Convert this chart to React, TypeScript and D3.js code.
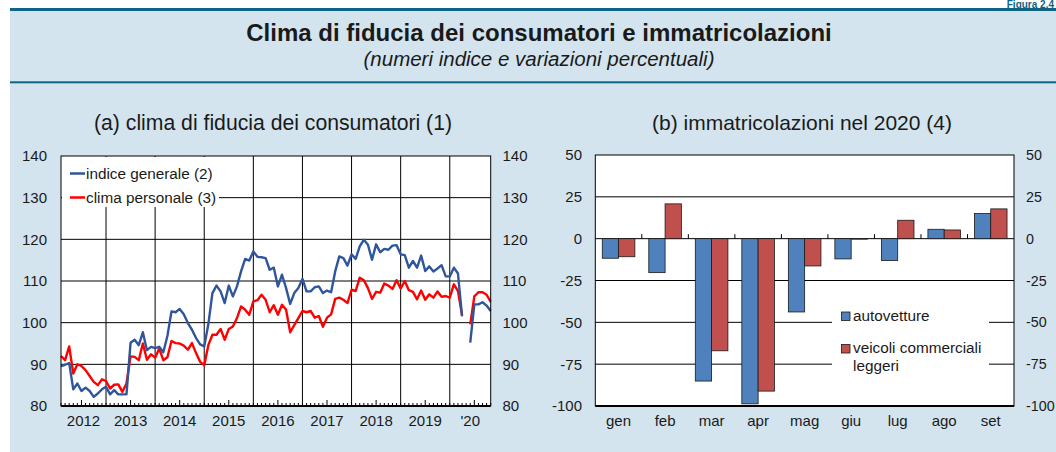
import React from "react";
import * as d3 from "d3";

// ---------- DATA ----------
const years = ["2012", "2013", "2014", "2015", "2016", "2017", "2018", "2019", "'20"];

// Monthly values, Jan 2012 .. Oct 2020 (April 2020 missing)
const indiceGenerale: (number | null)[] = [
  89.6, 89.9, 90.3, 84.0, 85.4, 83.6, 84.4, 83.6, 82.2, 83.0, 84.0, 84.6,
  82.8, 83.8, 82.8, 82.8, 82.8, 95.2, 95.9, 94.6, 97.7, 93.4, 94.2, 93.9,
  94.2, 92.9, 96.8, 102.7, 102.5, 103.3, 102.0, 99.9, 98.3, 96.3, 94.8, 94.3,
  99.6, 107.1, 108.9, 107.5, 104.7, 108.9, 106.3, 108.7, 112.3, 115.3, 114.9, 117.1,
  115.8, 115.7, 115.5, 112.7, 113.2, 108.7, 111.5, 108.3, 104.5, 107.1, 108.3, 110.5,
  107.5, 107.5, 108.5, 108.7, 107.1, 107.7, 107.3, 112.3, 115.9, 115.5, 113.7, 116.4,
  115.3, 118.3, 119.9, 118.7, 115.1, 118.8, 116.9, 117.7, 117.5, 118.5, 118.6, 116.4,
  116.2, 113.2, 114.8, 113.2, 116.1, 112.4, 113.5, 112.3, 113.0, 113.8, 111.1, 111.1,
  113.2, 111.8, 101.5, null, 95.2, 104.4, 104.4, 104.9, 104.1, 102.8,
];

const climaPersonale: (number | null)[] = [
  92.0, 91.0, 94.3, 87.8, 90.0, 89.6, 88.6, 87.2, 85.8, 85.0, 86.4, 86.0,
  84.2, 85.1, 85.2, 83.4, 85.4, 91.9, 91.8, 91.0, 95.0, 91.1, 92.4, 91.6,
  93.8, 91.0, 91.7, 95.6, 95.1, 95.0, 94.5, 93.5, 95.1, 92.7, 90.6, 89.8,
  94.6, 97.1, 97.1, 98.5, 95.9, 98.5, 99.1, 101.1, 103.9, 103.1, 101.9, 105.1,
  105.4, 106.7, 105.5, 102.5, 104.2, 101.9, 104.3, 103.1, 97.7, 99.4, 101.1, 102.8,
  102.5, 102.8, 101.2, 101.6, 99.0, 101.2, 102.0, 105.7, 106.0, 105.5, 104.7, 107.9,
  107.6, 110.8, 110.2, 108.3, 105.7, 107.4, 107.2, 109.4, 108.9, 108.1, 110.2, 108.2,
  110.0, 107.8, 107.4, 105.6, 107.7, 105.5, 106.8, 106.0, 107.5, 106.2, 106.4, 106.0,
  109.2, 107.6, 101.8, null, 99.6, 106.3, 107.3, 107.3, 106.7, 105.0,
];

const leftTicks = [80, 90, 100, 110, 120, 130, 140];

const months = ["gen", "feb", "mar", "apr", "mag", "giu", "lug", "ago", "set"];
const autovetture = [-11.7, -20.3, -85.1, -98.7, -43.8, -12.1, -13.1, 5.6, 15.0];
const veicoliCommerciali = [-10.8, 20.8, -67.0, -91.1, -16.3, -0.3, 11.0, 5.2, 17.8];
const rightTicks = [-100, -75, -50, -25, 0, 25, 50];

// ---------- STYLE ----------
const FONT = "'Liberation Sans', Arial, Helvetica, sans-serif";
const BG = "#d3e4ee";
const TEAL = "#0f6486";
const BLUE_LINE = "#2f569c";
const RED_LINE = "#ff0000";
const BLUE_BAR = "#4f81bd";
const RED_BAR = "#c0504d";
const TXT = "#1a1a1a";

export default function App() {
  const W = 1056, H = 452;

  // left panel
  const L = { x0: 61, x1: 490.7, y0: 156, y1: 406 };
  const xL = d3.scaleLinear().domain([0, 105]).range([L.x0, L.x1]);
  const yL = d3.scaleLinear().domain([80, 140]).range([L.y1, L.y0]);
  const line = d3
    .line<number | null>()
    .defined((d) => d !== null)
    .x((_, i) => xL(i))
    .y((d) => yL(d as number));
  const yearBounds = d3.range(8).map((k) => 11 + 12 * k);
  const yearCenters = years.map((_, k) => {
    const a = k === 0 ? 0 : 11 + 12 * (k - 1);
    const b = k === years.length - 1 ? 105 : 11 + 12 * k;
    return (a + b) / 2;
  });

  // right panel
  const R = { x0: 595.3, x1: 1014, y0: 155, y1: 406 };
  const xR = d3.scaleBand().domain(months).range([R.x0, R.x1]).paddingInner(0.3).paddingOuter(0.15);
  const xBound = d3.scaleLinear().domain([0, months.length]).range([R.x0, R.x1]);
  const yR = d3.scaleLinear().domain([-100, 50]).range([R.y1, R.y0]);
  const catW = (R.x1 - R.x0) / months.length;
  const barW = 16.3;

  return (
    <svg
      width={W}
      height={H}
      style={{ position: "absolute", left: 0, top: 0, background: "#fff" }}
      fontFamily={FONT}
    >
      <rect x={10} y={10} width={W - 10} height={H - 10} fill={BG} />
      <rect x={10} y={8} width={W - 10} height={3} fill={TEAL} />
      <rect x={10} y={81.3} width={W - 10} height={2} fill={TEAL} />
      <text x={1054} y={7.5} textAnchor="end" fontSize={10} fontWeight="bold" fill={TEAL}>Figura 2.4</text>

      <text x={539} y={41} textAnchor="middle" fontSize={24} fontWeight="bold" fill={TXT}>
        Clima di fiducia dei consumatori e immatricolazioni
      </text>
      <text x={539} y={66} textAnchor="middle" fontSize={20.5} fontStyle="italic" fill={TXT}>
        (numeri indice e variazioni percentuali)
      </text>

      <text x={273} y={130} textAnchor="middle" fontSize={21.2} fill={TXT}>
        (a) clima di fiducia dei consumatori (1)
      </text>
      <text x={802} y={130} textAnchor="middle" fontSize={21} fill={TXT}>
        (b) immatricolazioni nel 2020 (4)
      </text>

      {/* ---------- LEFT PANEL ---------- */}
      <rect x={L.x0} y={L.y0} width={L.x1 - L.x0} height={L.y1 - L.y0} fill="#fff" />
      {leftTicks.slice(1, -1).map((t) => (
        <line key={"hg" + t} x1={L.x0} x2={L.x1} y1={yL(t)} y2={yL(t)} stroke="#000" strokeWidth={1} />
      ))}
      {yearBounds.map((b) => (
        <line key={"vg" + b} x1={xL(b)} x2={xL(b)} y1={L.y0} y2={L.y1} stroke="#000" strokeWidth={1} />
      ))}
      {d3.range(0, 106).map((i) => (
        <line
          key={"mt" + i}
          x1={xL(i)}
          x2={xL(i)}
          y1={L.y1}
          y2={L.y1 - ((i - 5) % 12 === 0 ? 6 : 3)}
          stroke="#000"
          strokeWidth={1}
        />
      ))}
      {/* legend box */}
      <rect x={L.x0 + 1} y={L.y0 + 1} width={157} height={50} fill="#fff" />
      <line x1={70} x2={85} y1={173.5} y2={173.5} stroke={BLUE_LINE} strokeWidth={2.5} />
      <text x={86} y={178.8} fontSize={15.3} fill={TXT}>indice generale (2)</text>
      <line x1={70} x2={85} y1={197.5} y2={197.5} stroke={RED_LINE} strokeWidth={2.5} />
      <text x={86} y={202.8} fontSize={15.3} fill={TXT}>clima personale (3)</text>

      <path d={line(climaPersonale) || ""} fill="none" stroke={RED_LINE} strokeWidth={2.4} strokeLinejoin="round" />
      <path d={line(indiceGenerale) || ""} fill="none" stroke={BLUE_LINE} strokeWidth={2.4} strokeLinejoin="round" />

      <rect x={L.x0} y={L.y0} width={L.x1 - L.x0} height={L.y1 - L.y0} fill="none" stroke="#000" strokeWidth={1} />
      <line x1={L.x0} x2={L.x1} y1={L.y1} y2={L.y1} stroke="#000" strokeWidth={2} />

      {leftTicks.map((t) => (
        <g key={"lt" + t}>
          <text x={47} y={yL(t)} dy="0.36em" textAnchor="end" fontSize={15} fill={TXT}>{t}</text>
          <text x={502.5} y={yL(t)} dy="0.36em" textAnchor="start" fontSize={15} fill={TXT}>{t}</text>
        </g>
      ))}
      {years.map((y, k) => (
        <text key={"yl" + y} x={xL(yearCenters[k])} y={426} textAnchor="middle" fontSize={15} fill={TXT}>
          {y}
        </text>
      ))}

      {/* ---------- RIGHT PANEL ---------- */}
      <rect x={R.x0} y={R.y0} width={R.x1 - R.x0} height={R.y1 - R.y0} fill="#fff" />
      {rightTicks.slice(1, -1).map((t) => (
        <line key={"rg" + t} x1={R.x0} x2={R.x1} y1={yR(t)} y2={yR(t)} stroke="#000" strokeWidth={1} />
      ))}
      {d3.range(1, months.length).map((k) => (
        <line key={"ct" + k} x1={xBound(k)} x2={xBound(k)} y1={yR(0)} y2={yR(0) - 4.5} stroke="#000" strokeWidth={1} />
      ))}
      {/* legend box */}
      <rect x={832} y={300} width={157} height={82} fill="#fff" />
      <rect x={841.5} y={312} width={8.5} height={8.5} fill={BLUE_BAR} stroke={TXT} strokeWidth={0.8} />
      <text x={853} y={320.8} fontSize={15.3} fill={TXT}>autovetture</text>
      <rect x={841.5} y={344.5} width={8.5} height={8.5} fill={RED_BAR} stroke={TXT} strokeWidth={0.8} />
      <text x={853} y={353.3} fontSize={15.3} fill={TXT}>veicoli commerciali</text>
      <text x={853} y={371.3} fontSize={15.3} fill={TXT}>leggeri</text>

      {months.map((m, k) => {
        const c = xBound(k) + catW / 2;
        const a = autovetture[k];
        const v = veicoliCommerciali[k];
        return (
          <g key={"bar" + m}>
            <rect
              x={c - barW}
              y={yR(Math.max(0, a))}
              width={barW}
              height={Math.abs(yR(a) - yR(0))}
              fill={BLUE_BAR}
              stroke={TXT}
              strokeWidth={0.8}
            />
            <rect
              x={c}
              y={yR(Math.max(0, v))}
              width={barW}
              height={Math.abs(yR(v) - yR(0))}
              fill={RED_BAR}
              stroke={TXT}
              strokeWidth={0.8}
            />
          </g>
        );
      })}

      <rect x={R.x0} y={R.y0} width={R.x1 - R.x0} height={R.y1 - R.y0} fill="none" stroke="#000" strokeWidth={1} />
      <line x1={R.x0} x2={R.x1} y1={R.y1} y2={R.y1} stroke="#000" strokeWidth={2} />

      {rightTicks.map((t) => (
        <g key={"rt" + t}>
          <text x={582} y={yR(t)} dy="0.36em" textAnchor="end" fontSize={15} fill={TXT}>{t}</text>
          <text x={1026} y={yR(t)} dy="0.36em" textAnchor="start" fontSize={14.3} fill={TXT}>{t}</text>
        </g>
      ))}
      {months.map((m) => (
        <text
          key={"ml" + m}
          x={(xR(m) as number) + xR.bandwidth() / 2}
          y={425.5}
          textAnchor="middle"
          fontSize={15}
          fill={TXT}
        >
          {m}
        </text>
      ))}
    </svg>
  );
}
